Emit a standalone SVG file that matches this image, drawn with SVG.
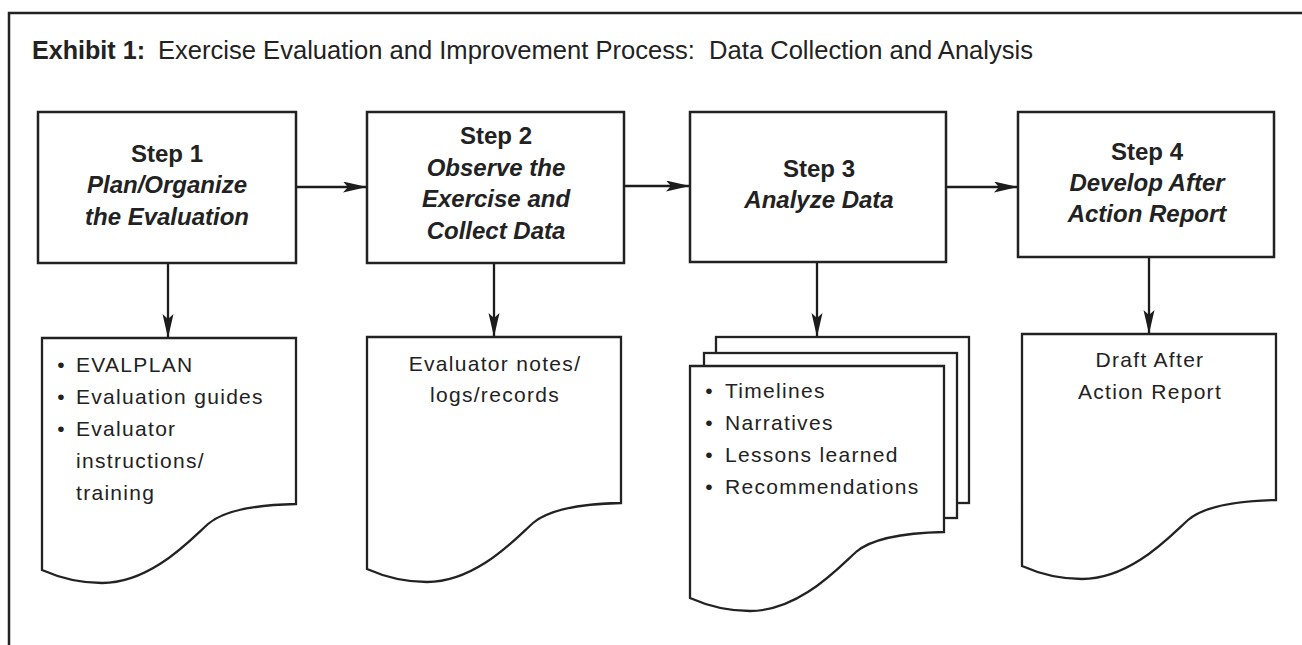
<svg xmlns="http://www.w3.org/2000/svg" width="1302" height="645" viewBox="0 0 1302 645">
  <style>
    .frame { fill: none; stroke: #222; stroke-width: 2.5; }
    .box { fill: #fff; stroke: #222; stroke-width: 2.5; }
    .doc { fill: #fff; stroke: #222; stroke-width: 2.3; stroke-linejoin: miter; }
    .conn { fill: none; stroke: #1c1c1c; stroke-width: 2.3; }
    .title { font-family: "Liberation Sans", Arial, sans-serif; font-size: 25px; fill: #222; }
    .step { font-family: "Liberation Sans", Arial, sans-serif; font-size: 24px; font-weight: bold; fill: #222; text-anchor: middle; }
    .step .sub { font-style: italic; }
    .txt { font-family: "Liberation Sans", Arial, sans-serif; font-size: 21px; letter-spacing: 1.3px; fill: #222; }
    .mid { text-anchor: middle; }
    .bul { font-family: "Liberation Sans", Arial, sans-serif; font-size: 21px; fill: #222; text-anchor: middle; }
  </style>
  <defs>
    <marker id="arrow" markerUnits="userSpaceOnUse" markerWidth="26" markerHeight="12" refX="24" refY="5.5" orient="auto">
      <path d="M0,0 L24,5.5 L0,11 L5,5.5 Z" fill="#1c1c1c"/>
    </marker>
    <!-- page with a curled lower edge, origin at its top-left corner -->
    <path id="page" d="M0,0 H254 V166 C208,167 180,174 166,186 C150,200 110,245 60,245 C38,245 18,240 0,232 Z"/>
  </defs>

  <!-- outer frame (top and left edges) -->
  <path class="frame" d="M9,645 V13 H1302"/>

  <!-- heading -->
  <text class="title" x="32" y="59" font-weight="bold" textLength="113" lengthAdjust="spacingAndGlyphs">Exhibit 1:</text>
  <text class="title" x="158" y="59" xml:space="preserve" textLength="875" lengthAdjust="spacingAndGlyphs">Exercise Evaluation and Improvement Process:  Data Collection and Analysis</text>

  <!-- connectors -->
  <g id="connectors">
    <line class="conn" x1="296" y1="187" x2="367" y2="187" marker-end="url(#arrow)"/>
    <line class="conn" x1="624" y1="186" x2="690" y2="186" marker-end="url(#arrow)"/>
    <line class="conn" x1="947" y1="187" x2="1018" y2="187" marker-end="url(#arrow)"/>
    <line class="conn" x1="168" y1="263" x2="168" y2="338" marker-end="url(#arrow)"/>
    <line class="conn" x1="494" y1="263" x2="494" y2="337" marker-end="url(#arrow)"/>
    <line class="conn" x1="817" y1="262" x2="817" y2="337" marker-end="url(#arrow)"/>
    <line class="conn" x1="1149" y1="257" x2="1149" y2="334" marker-end="url(#arrow)"/>
  </g>

  <!-- step boxes -->
  <g id="step1">
    <rect class="box" x="38" y="112" width="258" height="151"/>
    <text class="step" x="167" y="162">Step 1</text>
    <text class="step" x="167" y="193"><tspan class="sub">Plan/Organize</tspan></text>
    <text class="step" x="167" y="225"><tspan class="sub">the Evaluation</tspan></text>
  </g>
  <g id="step2">
    <rect class="box" x="367" y="112" width="257" height="151"/>
    <text class="step" x="496" y="144">Step 2</text>
    <text class="step" x="496" y="176"><tspan class="sub">Observe the</tspan></text>
    <text class="step" x="496" y="207"><tspan class="sub">Exercise and</tspan></text>
    <text class="step" x="496" y="239"><tspan class="sub">Collect Data</tspan></text>
  </g>
  <g id="step3">
    <rect class="box" x="690" y="112" width="256" height="150"/>
    <text class="step" x="819" y="177">Step 3</text>
    <text class="step" x="819" y="208"><tspan class="sub">Analyze Data</tspan></text>
  </g>
  <g id="step4">
    <rect class="box" x="1018" y="112" width="256" height="145"/>
    <text class="step" x="1147" y="160">Step 4</text>
    <text class="step" x="1147" y="191"><tspan class="sub">Develop After</tspan></text>
    <text class="step" x="1147" y="222"><tspan class="sub">Action Report</tspan></text>
  </g>

  <!-- output documents -->
  <g id="doc1">
    <use href="#page" class="doc" transform="translate(42,338)"/>
    <text class="bul" x="61" y="372">•</text>
    <text class="bul" x="61" y="404">•</text>
    <text class="bul" x="61" y="436">•</text>
    <text class="txt" x="76" y="372">EVALPLAN</text>
    <text class="txt" x="76" y="404">Evaluation guides</text>
    <text class="txt" x="76" y="436">Evaluator</text>
    <text class="txt" x="76" y="468">instructions/</text>
    <text class="txt" x="76" y="500">training</text>
  </g>
  <g id="doc2">
    <use href="#page" class="doc" transform="translate(367,337)"/>
    <text class="txt mid" x="495" y="371">Evaluator notes/</text>
    <text class="txt mid" x="495" y="402">logs/records</text>
  </g>
  <g id="doc3">
    <rect class="doc" x="716" y="337" width="253" height="166"/>
    <rect class="doc" x="704" y="353" width="253" height="165"/>
    <use href="#page" class="doc" transform="translate(690,366)"/>
    <text class="bul" x="709" y="398">•</text>
    <text class="bul" x="709" y="430">•</text>
    <text class="bul" x="709" y="462">•</text>
    <text class="bul" x="709" y="494">•</text>
    <text class="txt" x="725" y="398">Timelines</text>
    <text class="txt" x="725" y="430">Narratives</text>
    <text class="txt" x="725" y="462">Lessons learned</text>
    <text class="txt" x="725" y="494">Recommendations</text>
  </g>
  <g id="doc4">
    <use href="#page" class="doc" transform="translate(1022,334)"/>
    <text class="txt mid" x="1150" y="367">Draft After</text>
    <text class="txt mid" x="1150" y="399">Action Report</text>
  </g>
</svg>
